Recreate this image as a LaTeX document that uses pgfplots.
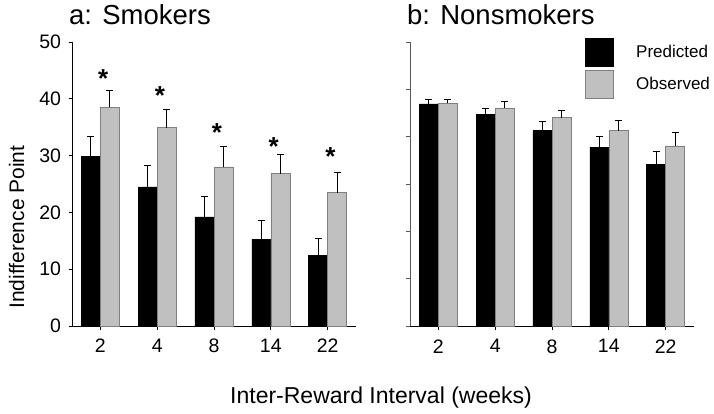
\documentclass[border=0pt]{standalone}
\usepackage{fontspec}
\setmainfont{Liberation Sans}
\usepackage{pgfplots}
\pgfplotsset{compat=1.18}
\definecolor{barGrey}{HTML}{C0C0C0}
\definecolor{edgeGrey}{HTML}{808080}
\newcommand{\fs}[1]{\fontsize{#1}{#1}\selectfont}
\newcommand{\legfont}{\fontsize{17}{17}\selectfont}
\begin{document}
\begin{tikzpicture}
\path[use as bounding box] (0,0) rectangle (714pt,413pt);
\pgfplotsset{
  panel/.style={
    scale only axis, width=284pt, height=284pt,
    anchor=south west,
    xmin=-0.5, xmax=4.5, ymin=0, ymax=50,
    axis x line*=bottom, axis y line*=left,
    axis line style={-, black, line width=0.8pt},
    xtick={0,1,2,3,4}, xticklabels={2,4,8,14,22},
    tick align=outside,
    major tick length=4pt,
    tick style={black, line width=0.8pt},
    /pgf/number format/assume math mode=true,
    tick label style={font=\fs{19.5}},
    xticklabel style={yshift=-6pt},
    clip=false,
  },
  ebar/.style={
     error bars/y dir=plus, error bars/y explicit,
     error bars/error bar style={black, line width=0.9pt},
     error bars/error mark options={rotate=90, mark size=3.5pt, line width=0.9pt, black}},
  pbar/.style={ybar, bar width=0.335, bar shift=0pt, fill=black, draw=black, ebar},
  obar/.style={ybar, bar width=0.335, bar shift=0pt, fill=barGrey, draw=edgeGrey, line width=0.6pt, ebar},
}
% Panel a: Smokers
\begin{axis}[panel, at={(72pt,87pt)},
  ytick={0,10,20,30,40,50},
  yticklabel style={xshift=-4pt},
  major tick length=3.5pt]
\addplot[pbar] coordinates {(-0.1675,29.9) +- (0,3.4) (0.8325,24.5) +- (0,3.7) (1.8325,19.2) +- (0,3.6) (2.8325,15.3) +- (0,3.2) (3.8325,12.4) +- (0,3.1)};
\addplot[obar] coordinates {(0.1675,38.5) +- (0,3.0) (1.1675,34.9) +- (0,3.2) (2.1675,28.0) +- (0,3.6) (3.1675,26.8) +- (0,3.4) (4.1675,23.5) +- (0,3.6)};
\addplot[draw=none, mark=none, nodes near coords={\bfseries *},
  every node near coord/.append style={anchor=center, font=\fs{26}, text=black, inner sep=0pt}]
  coordinates {(0.05,43.5) (1.05,40.6) (2.05,34.1) (3.05,31.6) (4.05,29.9)};
\end{axis}
% Panel b: Nonsmokers
\begin{axis}[panel, at={(410pt,87pt)},
  ytick={0,8.3333,16.6667,25,33.3333,41.6667,50},
  yticklabels={},
  y axis line style={edgeGrey!70!black, line width=0.6pt},
  ytick style={edgeGrey!70!black, line width=0.6pt},
  legend style={at={(0.616,1.015)}, anchor=north west, draw=none, fill=none,
    inner sep=0pt, row sep=3.3pt, column sep=0pt,
    nodes={inner sep=0pt}},
  legend cell align=left]
\addplot[pbar, legend image code/.code={\draw[fill=black, draw=black] (0pt,-14pt) rectangle (28pt,14pt);}]
  coordinates {(-0.1675,39.1) +- (0,0.8) (0.8325,37.3) +- (0,1.0) (1.8325,34.4) +- (0,1.6) (2.8325,31.5) +- (0,1.8) (3.8325,28.5) +- (0,2.2)};
\addplot[obar, legend image code/.code={\draw[fill=barGrey, draw=edgeGrey, line width=0.6pt] (0pt,-14pt) rectangle (28pt,14pt);}]
  coordinates {(0.1675,39.2) +- (0,0.6) (1.1675,38.4) +- (0,1.1) (2.1675,36.7) +- (0,1.2) (3.1675,34.4) +- (0,1.8) (4.1675,31.7) +- (0,2.3)};
\legend{\mbox{}, \mbox{}}
\end{axis}
% legend labels
\node[anchor=west, inner sep=0pt, font=\legfont] at (636pt,362pt) {Predicted};
\node[anchor=west, inner sep=0pt, font=\legfont] at (636pt,330pt) {Observed};
% titles and labels
\node[anchor=base west, inner sep=0pt, font=\fs{27.5}] at (69pt,388pt) {a: Smokers};
\node[anchor=base west, inner sep=0pt, font=\fs{27.5}] at (407pt,388pt) {b: Nonsmokers};
\node[anchor=base, inner sep=0pt, font=\fs{23}] at (381pt,10pt) {Inter-Reward Interval (weeks)};
\node[anchor=base, rotate=90, inner sep=0pt, font=\fs{21}] at (24pt,186pt) {Indifference Point};
\end{tikzpicture}
\end{document}
